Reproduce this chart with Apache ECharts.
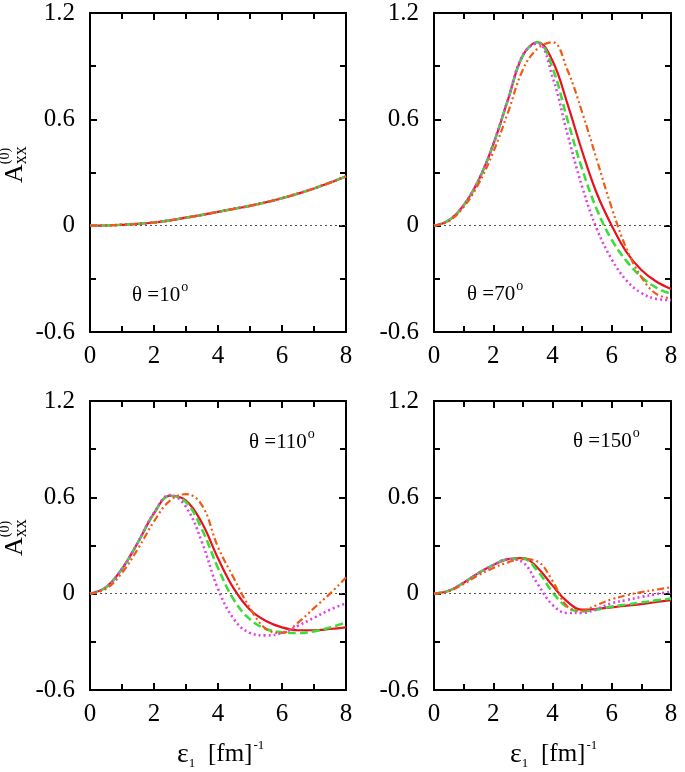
<!DOCTYPE html>
<html>
<head>
<meta charset="utf-8">
<script src="https://cdn.jsdelivr.net/npm/echarts@6/dist/echarts.min.js"></script>
<style>
html,body{margin:0;padding:0;background:#fff;}
#chart{width:685px;height:772px;}
</style>
</head>
<body>
<div id="chart"></div>
<script>
// energy grid (eps_1 in fm^-1)
const xs = [0,0.5,1,1.5,2,2.5,3,3.5,4,4.5,5,5.5,6,6.5,7,7.5,8];

// theta = 10 deg
const t10_red     = [0,0.001,0.005,0.01,0.018,0.03,0.045,0.061,0.078,0.095,0.112,0.132,0.155,0.181,0.21,0.243,0.278];
const t10_green   = [0,0.001,0.005,0.01,0.018,0.03,0.045,0.061,0.078,0.095,0.112,0.132,0.155,0.181,0.21,0.243,0.278];
const t10_magenta = [0,0.001,0.005,0.01,0.018,0.03,0.045,0.061,0.078,0.095,0.112,0.132,0.155,0.181,0.21,0.243,0.278];
const t10_orange  = [0,0.001,0.005,0.01,0.018,0.03,0.045,0.061,0.078,0.095,0.112,0.132,0.155,0.181,0.21,0.243,0.278];

// theta = 70 deg
const t70_red     = [0,0.03,0.115,0.255,0.458,0.712,0.96,1.035,0.93,0.69,0.42,0.18,0.0,-0.15,-0.25,-0.315,-0.357];
const t70_green   = [0,0.03,0.115,0.255,0.458,0.712,0.96,1.035,0.89,0.60,0.32,0.09,-0.08,-0.20,-0.29,-0.35,-0.385];
const t70_magenta = [0,0.03,0.115,0.255,0.46,0.715,0.965,1.03,0.84,0.52,0.22,-0.02,-0.19,-0.31,-0.38,-0.413,-0.42];
const t70_orange  = [0,0.025,0.105,0.235,0.415,0.64,0.88,1.0,1.035,0.88,0.64,0.37,0.10,-0.13,-0.29,-0.385,-0.41];

// theta = 110 deg
const t110_red     = [0,0.04,0.155,0.32,0.50,0.61,0.58,0.44,0.22,0.03,-0.10,-0.17,-0.21,-0.228,-0.228,-0.22,-0.21];
const t110_green   = [0,0.04,0.155,0.32,0.50,0.61,0.57,0.40,0.16,-0.04,-0.16,-0.22,-0.24,-0.245,-0.235,-0.21,-0.18];
const t110_magenta = [0,0.04,0.155,0.32,0.505,0.615,0.54,0.32,0.03,-0.16,-0.245,-0.26,-0.245,-0.20,-0.15,-0.10,-0.06];
const t110_orange  = [0,0.03,0.13,0.28,0.45,0.58,0.62,0.55,0.29,0.095,-0.09,-0.22,-0.245,-0.18,-0.09,0.0,0.1];

// theta = 150 deg
const t150_red     = [0,0.018,0.068,0.128,0.178,0.215,0.222,0.16,0.05,-0.05,-0.10,-0.095,-0.085,-0.075,-0.065,-0.052,-0.04];
const t150_green   = [0,0.018,0.068,0.128,0.178,0.215,0.218,0.14,0.01,-0.085,-0.11,-0.10,-0.08,-0.068,-0.055,-0.042,-0.03];
const t150_magenta = [0,0.018,0.068,0.128,0.178,0.215,0.195,0.06,-0.07,-0.12,-0.12,-0.095,-0.06,-0.04,-0.02,-0.003,0.012];
const t150_orange  = [0,0.015,0.06,0.115,0.16,0.195,0.215,0.2,0.08,-0.08,-0.105,-0.07,-0.035,-0.01,0.01,0.025,0.04];

const xTicks = [0,2,4,6,8];
const yTicks = [-0.6,0,0.6,1.2];
const panelLabels = ['10','70','110','150'];

const panels = [
  [t10_red,t10_green,t10_magenta,t10_orange],
  [t70_red,t70_green,t70_magenta,t70_orange],
  [t110_red,t110_green,t110_magenta,t110_orange],
  [t150_red,t150_green,t150_magenta,t150_orange]
];

const FONT = '"Liberation Serif", "DejaVu Serif", serif';
const grids = [
  {left:90, top:13, width:256, height:319},
  {left:434, top:13, width:237, height:319},
  {left:90, top:401, width:256, height:289},
  {left:434, top:401, width:237, height:289}
];

const styles = [
  {color:'#e8121e', type:'solid', width:2.2},
  {color:'#3ddc3d', type:[8,4], width:2.6},
  {color:'#e040e8', type:[2,3], width:2.6},
  {color:'#f05a14', type:[7,3,2,3,2,3], width:2.2}
];

const xAxes = [], yAxes = [], series = [];
grids.forEach((g, i) => {
  const common = {
    type:'value', gridIndex:i, splitLine:{show:false},
    axisLine:{show:true, onZero:false, lineStyle:{color:'#000', width:2}},
    axisTick:{show:true, inside:true, length:7, lineStyle:{color:'#000', width:2}},
    minorTick:{show:true, splitNumber:2, length:6, lineStyle:{color:'#000', width:2}},
    minorSplitLine:{show:false}
  };
  xAxes.push(Object.assign({}, common, {
    position:'bottom', min:xTicks[0], max:xTicks[xTicks.length-1], interval:2,
    axisLabel:{show:true, margin:12, color:'#000', fontFamily:FONT, fontSize:25}
  }));
  xAxes.push(Object.assign({}, common, {
    position:'top', min:xTicks[0], max:xTicks[xTicks.length-1], interval:2,
    axisLabel:{show:false}
  }));
  yAxes.push(Object.assign({}, common, {
    position:'left', min:yTicks[0], max:yTicks[yTicks.length-1], interval:0.6,
    axisLabel:{show:true, margin:15, color:'#000', fontFamily:FONT, fontSize:25,
      formatter: v => String(Math.round(v*10)/10)}
  }));
  yAxes.push(Object.assign({}, common, {
    position:'right', min:yTicks[0], max:yTicks[yTicks.length-1], interval:0.6,
    axisLabel:{show:false}
  }));
  panels[i].forEach((arr, k) => {
    const s = {
      type:'line', xAxisIndex:2*i, yAxisIndex:2*i,
      data: xs.map((x, j) => [x, arr[j]]),
      showSymbol:false, smooth:0.4, animation:false, silent:true,
      lineStyle:{color:styles[k].color, type:styles[k].type, width:styles[k].width, cap:'butt'},
      z: 3 + k
    };
    if (k === 0) {
      s.markLine = {
        symbol:'none', silent:true, animation:false, label:{show:false},
        lineStyle:{type:[2,3], color:'#555', width:1},
        data:[{yAxis:0}]
      };
    }
    series.push(s);
  });
});

const measureCtx = document.createElement('canvas').getContext('2d');
function textWidth(txt, size) {
  measureCtx.font = size + 'px ' + FONT;
  return measureCtx.measureText(txt).width;
}

const graphics = [];
function yTitle(x, yBottom) {
  const wA = textWidth('A', 26);
  graphics.push({
    type:'group', x:x, y:yBottom, rotation:Math.PI/2,
    children:[
      {type:'text', x:0, y:0, style:{text:'A', fontFamily:FONT, fontSize:26, fill:'#000', verticalAlign:'middle'}},
      {type:'text', x:wA, y:6, style:{text:'xx', fontFamily:FONT, fontSize:18, fill:'#000', verticalAlign:'middle'}},
      {type:'text', x:wA, y:-10, style:{text:'(0)', fontFamily:FONT, fontSize:14, fill:'#000', verticalAlign:'middle'}}
    ]
  });
}
yTitle(15, 183);
yTitle(15, 556);

function xTitle(x0) {
  const we = textWidth('ε', 28);
  graphics.push({type:'text', x:x0, y:755, style:{text:'ε', fontFamily:FONT, fontSize:28, fill:'#000', verticalAlign:'middle'}});
  graphics.push({type:'text', x:x0+we, y:764, style:{text:'1', fontFamily:FONT, fontSize:13, fill:'#000', verticalAlign:'middle'}});
  const wf = textWidth('[fm]', 25);
  graphics.push({type:'text', x:x0+31, y:754, style:{text:'[fm]', fontFamily:FONT, fontSize:25, fill:'#000', verticalAlign:'middle'}});
  graphics.push({type:'text', x:x0+31+wf+1, y:746, style:{text:'-1', fontFamily:FONT, fontSize:13, fill:'#000', verticalAlign:'middle'}});
}
xTitle(177);
xTitle(510);

function thetaLabel(x, y, val) {
  const txt = 'θ =' + val;
  const w = textWidth(txt, 21);
  graphics.push({type:'text', x:x, y:y, style:{text:txt, fontFamily:FONT, fontSize:21, fill:'#000', verticalAlign:'middle'}});
  graphics.push({type:'text', x:x+w+1, y:y-8, style:{text:'o', fontFamily:FONT, fontSize:14, fill:'#000', verticalAlign:'middle'}});
}
thetaLabel(132, 295, panelLabels[0]);
thetaLabel(467, 294, panelLabels[1]);
thetaLabel(249, 442, panelLabels[2]);
thetaLabel(573, 441, panelLabels[3]);

const chart = echarts.init(document.getElementById('chart'), null, {renderer:'canvas'});
chart.setOption({
  animation:false,
  backgroundColor:'#fff',
  textStyle:{fontFamily:FONT},
  grid: grids.map(g => Object.assign({containLabel:false}, g)),
  xAxis: xAxes,
  yAxis: yAxes,
  series: series,
  graphic: graphics
});
</script>
</body>
</html>
